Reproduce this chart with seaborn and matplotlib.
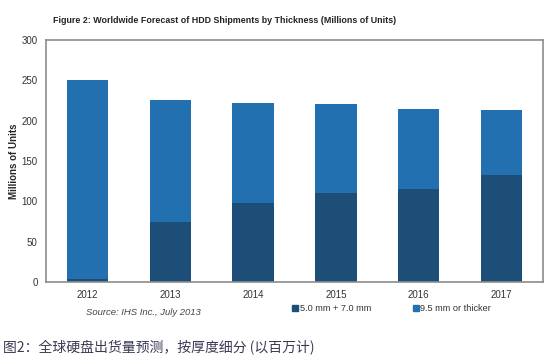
import numpy as np
import pandas as pd
import matplotlib
matplotlib.use("Agg")
import matplotlib.pyplot as plt
import seaborn as sns
from matplotlib.patches import Patch

sns.set_style("white")
plt.rcParams['font.family'] = ['Liberation Sans', 'Noto Sans CJK SC', 'DejaVu Sans']

# data (millions of units)
years = ['2012', '2013', '2014', '2015', '2016', '2017']
thin_mm = [4, 74, 98, 110, 115, 132]        # 5.0 mm + 7.0 mm
thick_mm = [246, 151, 124, 111, 100, 81]    # 9.5 mm or thicker
y_ticks = [0, 50, 100, 150, 200, 250, 300]

DARK = '#1c4e77'
LIGHT = '#2270b0'

df = pd.DataFrame({'year': years, 'thin': thin_mm, 'thick': thick_mm})
df['total'] = df['thin'] + df['thick']

fig = plt.figure(figsize=(5.51, 3.64), dpi=100)
ax = fig.add_axes([0.0835, 0.2253, 0.902, 0.665])

# stacked bars: total in light blue, thin drives in dark blue over it
sns.barplot(data=df, x='year', y='total', color=LIGHT, width=0.5, saturation=1,
            linewidth=0, ax=ax)
sns.barplot(data=df, x='year', y='thin', color=DARK, width=0.5, saturation=1,
            linewidth=0, ax=ax)

ax.set_ylim(0, 300)
ax.set_xlim(-0.5, 5.5)
ax.set_yticks(y_ticks)
ax.set_yticklabels([str(t) for t in y_ticks], fontsize=7, color='#333333')
ax.tick_params(axis='x', labelsize=7, colors='#333333', length=0, pad=6)
ax.tick_params(axis='y', length=0, pad=6)
ax.set_xlabel('')
ax.set_ylabel('Millions of Units', fontsize=7, fontweight='bold', labelpad=2)
for sp in ax.spines.values():
    sp.set_color('#8c8c8c')
    sp.set_linewidth(1.2)

fig.text(0.097, 0.945, 'Figure 2: Worldwide Forecast of HDD Shipments by Thickness (Millions of Units)',
         fontsize=6.4, fontweight='bold', color='#222222', va='center')

fig.text(0.26, 0.142, 'Source: IHS Inc., July 2013', fontsize=6.8, style='italic',
         color='#444444', ha='center', va='center')

handles = [Patch(color=DARK, label='5.0 mm + 7.0 mm'),
           Patch(color=LIGHT, label='9.5 mm or thicker')]
fig.legend(handles=handles, loc='center', bbox_to_anchor=(0.711, 0.152), ncol=2,
           frameon=False, fontsize=6.6, handlelength=0.6, handleheight=0.6,
           handletextpad=0.2, columnspacing=4.6, labelcolor='#333333')

fig.text(0.005, 0.045, '图2：全球硬盘出货量预测，按厚度细分 (以百万计)',
         fontsize=10, style='italic', color='#3a3a55', va='center',
         family=['Noto Sans CJK SC', 'DejaVu Sans'])

fig.savefig('out.png', dpi=100)
